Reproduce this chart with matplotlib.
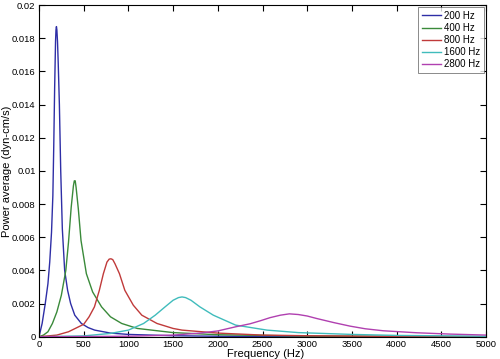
import matplotlib
matplotlib.use('Agg')
import matplotlib.pyplot as plt
from matplotlib.ticker import FuncFormatter

narrow = ['Liberation Sans Narrow', 'Liberation Sans', 'DejaVu Sans']
plt.rcParams['font.family'] = narrow

# values
f200 = [0, 35, 70, 100, 120, 140, 155, 165, 175, 185, 190, 195, 200, 207, 215, 228, 243, 261, 287, 320, 354, 400, 474, 550, 623, 800, 1000, 1500, 2000, 3000, 4000, 5000]
p200 = [0, 0.0008, 0.002, 0.0032, 0.0045, 0.0063, 0.0085, 0.0115, 0.0150, 0.0178, 0.0185, 0.0187, 0.0185, 0.0178, 0.0165, 0.0140, 0.0100, 0.0065, 0.0040, 0.0028, 0.0020, 0.0013, 0.0008, 0.00055, 0.0004, 0.00022, 0.00014, 0.00006, 0.00003, 0.00001, 0.000005, 0]

f400 = [0, 50, 100, 150, 200, 250, 300, 330, 360, 385, 395, 405, 415, 440, 470, 530, 600, 700, 800, 925, 1100, 1500, 2000, 3000, 5000]
p400 = [0, 0.0001, 0.0003, 0.0008, 0.0015, 0.0025, 0.004, 0.0057, 0.0078, 0.0091, 0.0094, 0.0094, 0.0090, 0.0077, 0.0058, 0.0038, 0.0027, 0.0018, 0.0012, 0.0008, 0.0005, 0.00025, 0.00012, 0.00004, 0]

f800 = [0, 200, 330, 500, 560, 620, 675, 720, 760, 785, 805, 825, 850, 900, 960, 1055, 1150, 1320, 1500, 1600, 2000, 2500, 3000, 4000, 5000]
p800 = [0, 0.0001, 0.0003, 0.00075, 0.0012, 0.0018, 0.0028, 0.0038, 0.0045, 0.00468, 0.0047, 0.00465, 0.0044, 0.0038, 0.0028, 0.0019, 0.0013, 0.0008, 0.0005, 0.0004, 0.00022, 0.0001, 0.00006, 0.00002, 0]

f1600 = [0, 500, 800, 1000, 1170, 1300, 1410, 1500, 1560, 1600, 1640, 1700, 1800, 1950, 2200, 2550, 2900, 3500, 4000, 5000]
p1600 = [0, 0.00005, 0.0002, 0.0004, 0.0008, 0.0013, 0.0018, 0.0022, 0.00236, 0.0024, 0.00236, 0.0022, 0.0018, 0.0013, 0.0007, 0.0004, 0.00025, 0.00014, 0.00008, 0.00003]

f2800 = [0, 1000, 1500, 1800, 2000, 2200, 2360, 2480, 2584, 2700, 2800, 2900, 3000, 3106, 3300, 3479, 3650, 3851, 4224, 4597, 5000]
p2800 = [0, 0.00003, 0.0001, 0.00022, 0.00035, 0.0006, 0.00078, 0.00097, 0.00115, 0.0013, 0.00138, 0.00134, 0.00125, 0.0011, 0.00085, 0.00064, 0.00048, 0.00036, 0.00024, 0.00016, 0.0001]

labels = ['200 Hz', '400 Hz', '800 Hz', '1600 Hz', '2800 Hz']
colors = ['#2e2ea6', '#3a8a3a', '#c03a3a', '#40bcbc', '#b040b0']

xticks = [0, 500, 1000, 1500, 2000, 2500, 3000, 3500, 4000, 4500, 5000]
yticks = [0, 0.002, 0.004, 0.006, 0.008, 0.01, 0.012, 0.014, 0.016, 0.018, 0.02]

fig = plt.figure(figsize=(5, 3.59), dpi=100)
ax = fig.add_axes([0.078, 0.062, 0.894, 0.924])

series = [(f200, p200), (f400, p400), (f800, p800), (f1600, p1600), (f2800, p2800)]
for (f, p), lab, c in zip(series, labels, colors):
    ax.plot(f, p, color=c, lw=1.0, label=lab)

ax.set_xlim(0, 5000)
ax.set_ylim(0, 0.02)
ax.set_xticks(xticks)
ax.set_yticks(yticks)
ax.yaxis.set_major_formatter(FuncFormatter(lambda v, pos: '%g' % round(v, 4)))
ax.tick_params(direction='in', top=True, right=True, length=4, labelsize=6.8, width=0.8, pad=2.5)
for s in ax.spines.values():
    s.set_linewidth(0.8)

ax.set_xlabel('Frequency (Hz)', fontsize=8)
ax.xaxis.set_label_coords(0.507, -0.036)
ax.set_ylabel('Power average (dyn-cm/s)', fontsize=8,
              family=['Liberation Sans', 'DejaVu Sans'])
ax.yaxis.set_label_coords(-0.061, 0.5)

leg = ax.legend(loc='upper right', fontsize=7, frameon=True, fancybox=False,
                edgecolor='#555555', handlelength=2.0, handletextpad=0.3,
                borderpad=0.35, labelspacing=0.22, borderaxespad=0.25)
leg.get_frame().set_linewidth(0.6)

fig.savefig('out.png', dpi=100)
